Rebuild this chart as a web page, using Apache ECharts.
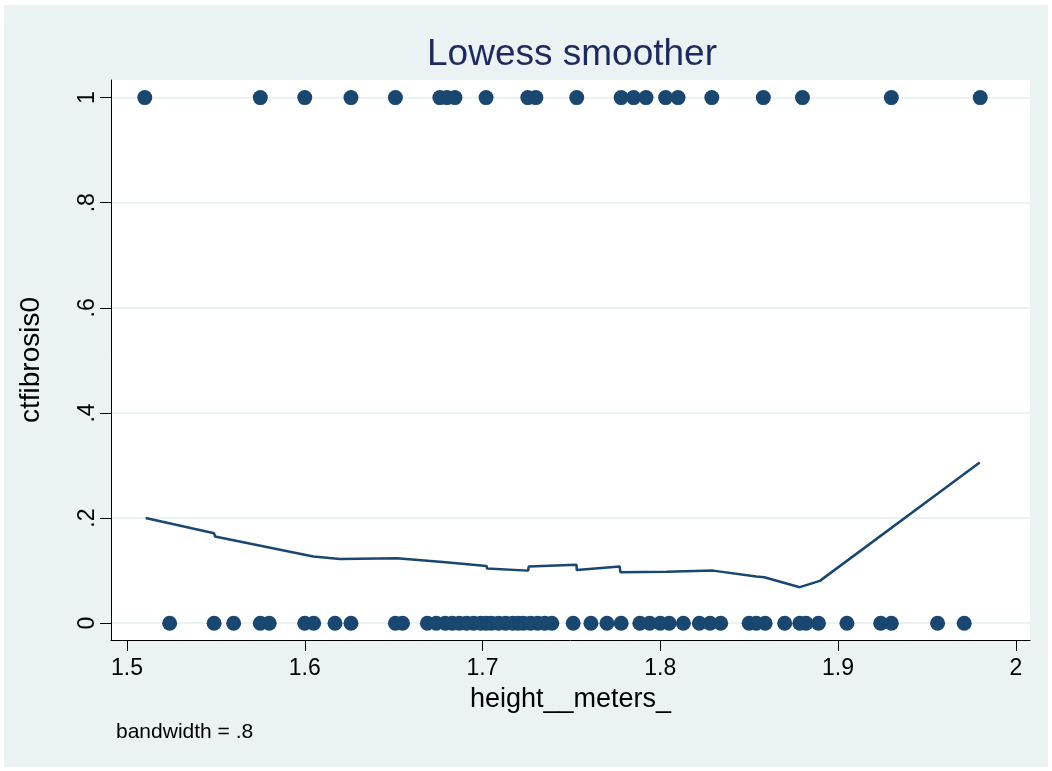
<!DOCTYPE html>
<html>
<head>
<meta charset="utf-8">
<script src="https://cdn.jsdelivr.net/npm/echarts@6/dist/echarts.min.js"></script>
<style>
  html, body { margin: 0; padding: 0; background: #ffffff; }
  #chart { width: 1052px; height: 771px; }
</style>
</head>
<body>
<div id="chart"></div>
<script>
// Heights (m) of subjects with ctfibrosis0 = 1
const heightPositive = [
  1.510, 1.575, 1.600, 1.626, 1.651, 1.676, 1.680, 1.6845, 1.702, 1.7255,
  1.730, 1.753, 1.778, 1.785, 1.792, 1.803, 1.810, 1.829, 1.858, 1.880,
  1.930, 1.980
];
// Heights (m) of subjects with ctfibrosis0 = 0
const heightNegative = [
  1.524, 1.549, 1.560, 1.575, 1.580, 1.600, 1.605, 1.617, 1.626, 1.651,
  1.655, 1.669, 1.674, 1.679, 1.683, 1.687, 1.691, 1.695, 1.699, 1.702,
  1.705, 1.709, 1.713, 1.717, 1.720, 1.723, 1.727, 1.731, 1.735, 1.739,
  1.751, 1.761, 1.770, 1.778, 1.7885, 1.794, 1.800, 1.805, 1.813, 1.822,
  1.828, 1.834, 1.850, 1.854, 1.859, 1.870, 1.8785, 1.882, 1.889, 1.905,
  1.924, 1.930, 1.956, 1.971
];
// Lowess fit (bandwidth .8)
const lowessX = [
  1.5105, 1.549, 1.5495, 1.6048, 1.6198, 1.6517, 1.676, 1.677, 1.7023, 1.7025,
  1.7257, 1.726, 1.7529, 1.753, 1.7772, 1.7775, 1.8035, 1.8297, 1.854, 1.8585,
  1.8785, 1.8898, 1.9797
];
const lowessY = [
  0.200, 0.171, 0.165, 0.127, 0.1223, 0.1236, 0.117, 0.114, 0.109, 0.104,
  0.100, 0.108, 0.111, 0.101, 0.108, 0.097, 0.098, 0.100, 0.0887, 0.0875,
  0.0685, 0.0805, 0.3055
];
const xTicks = [1.5, 1.6, 1.7, 1.8, 1.9, 2];
const xTickLabels = ['1.5', '1.6', '1.7', '1.8', '1.9', '2'];
const yTicks = [0, 0.2, 0.4, 0.6, 0.8, 1];
const yTickLabels = ['0', '.2', '.4', '.6', '.8', '1'];

const FONT = '"Liberation Sans", Arial, sans-serif';
const NAVY = '#1a476f';
const BG = '#eaf2f3';

function labelFor(ticks, labels) {
  return function (v) {
    for (let i = 0; i < ticks.length; i++) {
      if (Math.abs(ticks[i] - v) < 1e-9) return labels[i];
    }
    return '';
  };
}

const chart = echarts.init(document.getElementById('chart'), null, { renderer: 'canvas' });

chart.setOption({
  animation: false,
  backgroundColor: '#ffffff',
  graphic: [
    {
      type: 'rect', z: -10, silent: true,
      shape: { x: 4, y: 5, width: 1044, height: 762 },
      style: { fill: BG }
    },
    {
      type: 'text', silent: true, x: 572, y: 55,
      style: {
        text: 'Lowess smoother', fill: '#1e2a5c',
        font: '37px ' + FONT, textAlign: 'center', textVerticalAlign: 'middle'
      }
    },
    {
      type: 'text', silent: true, x: 116, y: 732,
      style: {
        text: 'bandwidth = .8', fill: '#000000',
        font: '21px ' + FONT, textAlign: 'left', textVerticalAlign: 'middle'
      }
    }
  ],
  grid: {
    left: 111, right: 22, top: 80, bottom: 131,
    show: true, backgroundColor: '#ffffff', borderWidth: 0
  },
  xAxis: {
    type: 'value',
    min: 1.491, max: 2.008,
    name: 'height__meters_',
    nameLocation: 'middle',
    nameGap: 46,
    nameTextStyle: { fontFamily: FONT, fontSize: 27, color: '#000' },
    axisLine: { show: true, onZero: false, lineStyle: { color: '#000', width: 1 } },
    axisTick: { show: true, length: 11, customValues: xTicks, lineStyle: { color: '#000', width: 1 } },
    axisLabel: {
      customValues: xTicks, margin: 17,
      formatter: labelFor(xTicks, xTickLabels),
      fontFamily: FONT, fontSize: 23, color: '#000'
    },
    splitLine: { show: false }
  },
  yAxis: {
    type: 'value',
    min: -0.032, max: 1.0335,
    name: 'ctfibrosis0',
    nameLocation: 'middle',
    nameGap: 66,
    nameRotate: 90,
    nameTextStyle: { fontFamily: FONT, fontSize: 28, color: '#000' },
    axisLine: { show: true, onZero: false, lineStyle: { color: '#000', width: 1 } },
    axisTick: { show: true, length: 11, customValues: yTicks, lineStyle: { color: '#000', width: 1 } },
    axisLabel: {
      customValues: yTicks, margin: 12, rotate: 90,
      formatter: labelFor(yTicks, yTickLabels),
      fontFamily: FONT, fontSize: 23, color: '#000'
    },
    splitLine: { show: true, lineStyle: { color: BG, width: 2 } }
  },
  series: [
    {
      type: 'line',
      data: lowessX.map((x, i) => [x, lowessY[i]]),
      showSymbol: false,
      symbol: 'none',
      lineStyle: { color: NAVY, width: 2.5 },
      silent: true,
      z: 3
    },
    {
      type: 'scatter',
      data: heightPositive.map(x => [x, 1]),
      symbolSize: 15,
      itemStyle: { color: NAVY, opacity: 1 },
      silent: true,
      z: 4
    },
    {
      type: 'scatter',
      data: heightNegative.map(x => [x, 0]),
      symbolSize: 15,
      itemStyle: { color: NAVY, opacity: 1 },
      silent: true,
      z: 4
    }
  ]
});
</script>
</body>
</html>
